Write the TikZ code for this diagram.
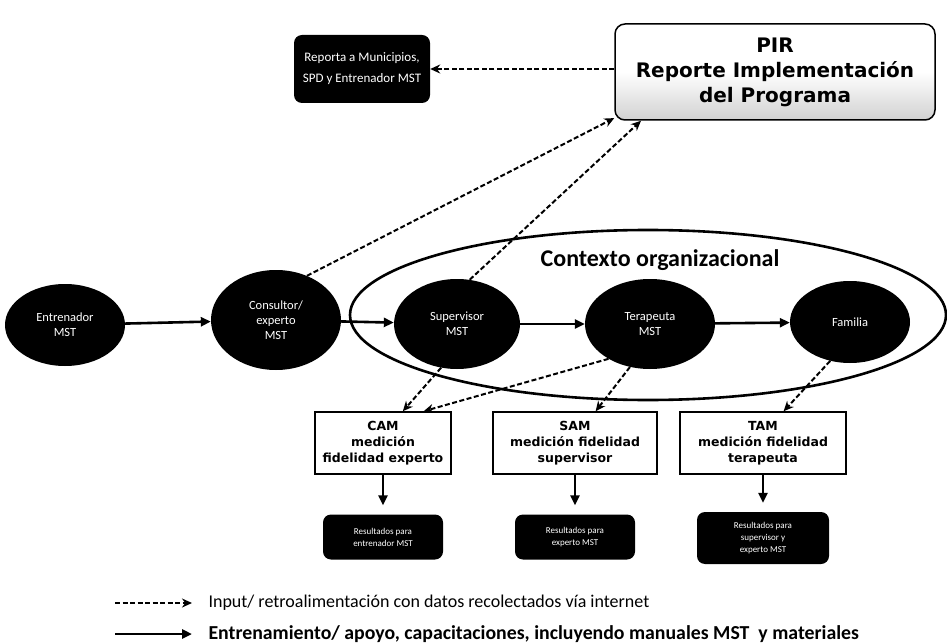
\documentclass[tikz,border=0pt]{standalone}
\usepackage{fontspec}
\setmainfont{Carlito}
\newfontfamily\boxfont{DejaVu Sans}
\usetikzlibrary{shapes.geometric,arrows.meta}

\begin{document}
\begin{tikzpicture}[x=1pt,y=-1pt]
		\tikzstyle{agent}=[ellipse,fill=black,text=white,inner sep=0pt,align=center,font=\fontsize{12.5}{15}\selectfont]
		\tikzstyle{measure}=[rectangle,draw=black,line width=1.5pt,fill=white,align=center,inner sep=2pt,font=\boxfont\bfseries\fontsize{12.5}{16}\selectfont]
		\tikzstyle{result}=[rectangle,rounded corners=8pt,fill=black,text=white,align=center,font=\fontsize{9}{12}\selectfont]
		\tikzstyle{report}=[rectangle,rounded corners=10pt,draw=black,line width=1.5pt,top color=white,bottom color=black!18,middle color=white,align=center,font=\boxfont\bfseries\fontsize{20}{25}\selectfont]
		\tikzstyle{training}=[-{Triangle[length=10pt,width=9pt]},line width=2.6pt]
		\tikzstyle{feedback}=[-{Stealth[length=10pt,width=9pt]},line width=2pt,dash pattern=on 5pt off 2.5pt]
		\tikzstyle{legend}=[anchor=west,font=\fontsize{18}{20}\selectfont]

		\useasboundingbox (0,0) rectangle (947,644);

			% Draw the organisational context
		\node[ellipse,draw=black,line width=2.6pt,minimum width=596pt,minimum height=170pt] (ctx) at (648,315) {};
		\node[font=\bfseries\fontsize{24}{28}\selectfont] (ctx label) at (660,260) {Contexto organizacional};

			% Draw the agent nodes
		\node[agent,minimum width=120pt,minimum height=82pt] (E) at (65,325) {Entrenador\\MST};
		\node[agent,minimum width=130pt,minimum height=100pt] (C) at (276,320) {Consultor/\\experto\\MST};
		\node[agent,minimum width=126pt,minimum height=90pt] (S) at (457,324) {Supervisor\\MST};
		\node[agent,minimum width=130pt,minimum height=90pt] (T) at (650,324) {Terapeuta\\MST};
		\node[agent,minimum width=120pt,minimum height=82pt] (F) at (850,322) {Familia};

			% Draw the report boxes
		\node[report,minimum width=320pt,minimum height=96pt] (PIR) at (775,72) {PIR\\Reporte Implementación\\del Programa};
		\node[result,minimum width=136pt,minimum height=68pt,font=\fontsize{13}{21}\selectfont] (rep) at (362,69) {Reporta a Municipios,\\SPD y Entrenador MST};

			% Draw the fidelity measures
		\node[measure,minimum width=136pt,minimum height=62pt] (CAM) at (383,443) {CAM\\medición\\fidelidad experto};
		\node[measure,minimum width=164pt,minimum height=62pt] (SAM) at (575,443) {SAM\\medición fidelidad\\supervisor};
		\node[measure,minimum width=166pt,minimum height=62pt] (TAM) at (763,443) {TAM\\medición fidelidad\\terapeuta};

			% Draw the results
		\node[result,minimum width=120pt,minimum height=45pt] (R1) at (383,537) {Resultados para\\entrenador MST};
		\node[result,minimum width=120pt,minimum height=45pt] (R2) at (575,537) {Resultados para\\experto MST};
		\node[result,minimum width=132pt,minimum height=52pt] (R3) at (763,538) {Resultados para\\supervisor y\\experto MST};

			% Training chain
		\foreach \source / \dest in {E/C,C/S,S/T,T/F}
		\draw[training] (\source) -- (\dest);

		\foreach \source / \dest in {CAM/R1,SAM/R2,TAM/R3}
		\draw[training,shorten >=9pt] (\source) -- (\dest);

			% Feedback via internet
		\draw[feedback] (rep.east -| PIR.west) -- (rep.east);
		\draw[feedback] (C.55) -- (PIR.196);
		\draw[feedback] (S.74) -- (PIR.200);
		\draw[feedback] (S.250) -- (CAM.58);
		\draw[feedback] (T.220) -- (CAM.38);
		\draw[feedback] (T.245) -- (SAM.57);
		\draw[feedback] (F.243) -- (TAM.57);

			% Legend
		\coordinate (dash start) at (115,603);
		\coordinate (dash end) at (192,603);
		\coordinate (line start) at (115,634);
		\coordinate (line end) at (192,634);
		\draw[feedback] (dash start) -- (dash end);
		\draw[training] (line start) -- (line end);
		\node[legend] (legend input) at (205,603) {Input/ retroalimentación con datos recolectados vía internet};
		\node[legend,font=\bfseries\fontsize{19.8}{21}\selectfont] (legend training) at (205,634) {Entrenamiento/ apoyo, capacitaciones, incluyendo manuales MST\ \ y materiales};
\end{tikzpicture}
\end{document}
